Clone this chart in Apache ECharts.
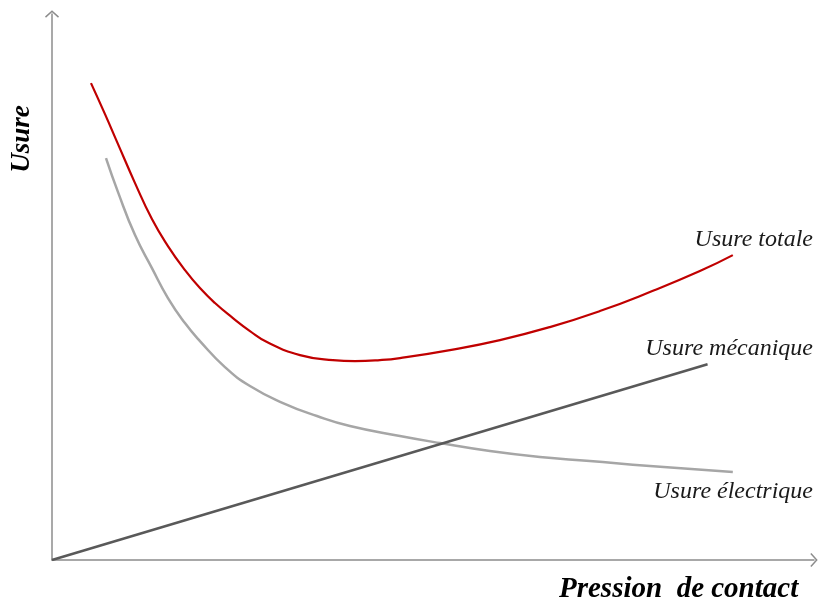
<!DOCTYPE html>
<html>
<head>
<meta charset="utf-8">
<script src="https://cdn.jsdelivr.net/npm/echarts@6/dist/echarts.min.js"></script>
<style>html,body{margin:0;padding:0;background:#fff}#c{width:821px;height:608px}</style>
</head>
<body>
<div id="c"></div>
<script>
const seriesNames = ['Usure totale', 'Usure mécanique', 'Usure électrique'];
const axisNames = ['Pression  de contact', 'Usure'];
const usureTotale = [[5.09,86.73],[6.92,81.09],[8.62,75.64],[10.84,68.55],[13.05,62.0],[15.14,57.09],[17.36,52.73],[19.32,49.45],[21.28,46.73],[23.63,44.0],[25.85,41.64],[28.07,39.64],[32.38,37.27],[36.68,36.36],[39.56,36.18],[42.82,36.36],[45.43,36.73],[51.96,38.18],[58.49,40.0],[65.01,42.36],[71.54,45.27],[78.07,48.73],[84.6,52.55],[88.9,55.45]];
const usureMecanique = [[0,0],[85.6,35.6]];
const usureElectrique = [[7.05,73.09],[8.62,66.91],[10.84,59.09],[13.05,53.09],[15.14,47.64],[17.36,43.09],[19.32,39.82],[22.58,35.09],[25.85,31.64],[30.16,28.55],[34.6,26.18],[38.9,24.36],[45.43,22.55],[50.65,21.27],[57.18,19.82],[63.71,18.73],[70.23,18.0],[78.07,17.09],[88.9,16.0]];

const chart = echarts.init(document.getElementById('c'), null, {renderer: 'canvas'});
const arrow = 'path://M10,0 L20,9 L18.6,10.6 L10,2.8 L1.4,10.6 L0,9 Z';
const axisLine = {show: true, symbol: ['none', arrow], symbolSize: [14, 8], lineStyle: {color: '#8c8c8c', width: 1.5}};
const labelFont = {fontFamily: 'Liberation Serif', fontStyle: 'italic', fontSize: 24, fill: '#1a1a1a', align: 'right', verticalAlign: 'middle'};
chart.setOption({
  animation: false,
  backgroundColor: '#fff',
  grid: {left: 52, top: 14, right: 7, bottom: 48},
  xAxis: {type: 'value', min: 0, max: 99.5, axisLine: axisLine, axisTick: {show: false}, axisLabel: {show: false}, splitLine: {show: false}},
  yAxis: {type: 'value', min: 0, max: 99.3, axisLine: axisLine, axisTick: {show: false}, axisLabel: {show: false}, splitLine: {show: false}},
  series: [
    {name: seriesNames[1], type: 'line', data: usureMecanique, showSymbol: false, lineStyle: {color: '#595959', width: 2.5}, z: 3},
    {name: seriesNames[2], type: 'line', data: usureElectrique, smooth: 0.5, showSymbol: false, lineStyle: {color: '#a6a6a6', width: 2.5}, z: 2},
    {name: seriesNames[0], type: 'line', data: usureTotale, smooth: 0.5, showSymbol: false, lineStyle: {color: '#c00000', width: 2.2}, z: 4}
  ],
  graphic: [
    {type: 'text', x: 813, y: 240, style: Object.assign({text: seriesNames[0]}, labelFont)},
    {type: 'text', x: 813, y: 349, style: Object.assign({text: seriesNames[1]}, labelFont)},
    {type: 'text', x: 813, y: 492, style: Object.assign({text: seriesNames[2]}, labelFont)},
    {type: 'text', x: 559, y: 590, style: {text: axisNames[0], fontFamily: 'Liberation Serif', fontStyle: 'italic', fontWeight: 'bold', fontSize: 29, fill: '#000', align: 'left', verticalAlign: 'middle'}},
    {type: 'text', x: 22, y: 139, rotation: Math.PI / 2, style: {text: axisNames[1], fontFamily: 'Liberation Serif', fontStyle: 'italic', fontWeight: 'bold', fontSize: 27, fill: '#000', align: 'center', verticalAlign: 'middle'}}
  ]
});
</script>
</body>
</html>
